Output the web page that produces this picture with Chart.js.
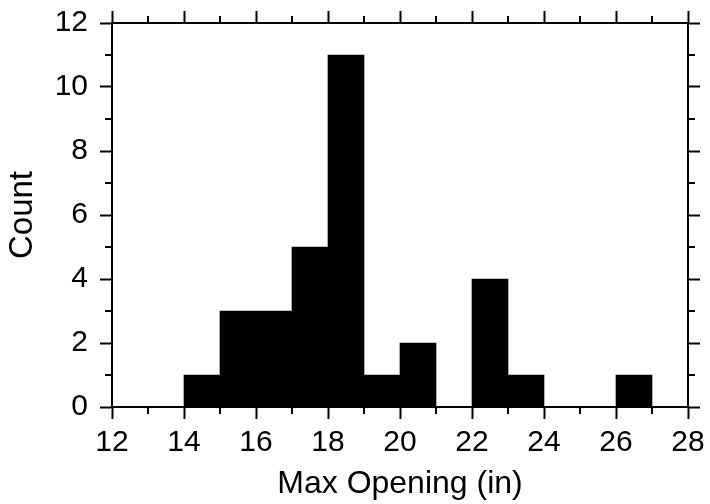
<!DOCTYPE html>
<html>
<head>
<meta charset="utf-8">
<script src="https://cdn.jsdelivr.net/npm/chart.js@4.4.1/dist/chart.umd.min.js"></script>
<style>
  html, body { margin: 0; padding: 0; background: #fff; }
  #wrap { width: 710px; height: 504px; }
</style>
</head>
<body>
<div id="wrap"><canvas id="c" width="710" height="504"></canvas></div>
<script>
// Histogram bins (left edges, width 1) and counts
const binStarts = [14, 15, 16, 17, 18, 19, 20, 21, 22, 23, 24, 25, 26];
const counts    = [1, 3, 3, 5, 11, 1, 2, 0, 4, 1, 0, 0, 1];
const binWidth = 1;

// Axis ticks
const xMajorTicks = [12, 14, 16, 18, 20, 22, 24, 26, 28];
const xMinorTicks = [13, 15, 17, 19, 21, 23, 25, 27];
const yMajorTicks = [0, 2, 4, 6, 8, 10, 12];
const yMinorTicks = [1, 3, 5, 7, 9, 11];

const xTitle = 'Max Opening (in)';
const yTitle = 'Count';

const FONT = '"Liberation Sans", Arial, Helvetica, sans-serif';
const MAJOR = 12, MINOR = 7, LW = 2;

const data = binStarts.map((s, i) => ({ x: s + binWidth / 2, y: counts[i] }));

function setTicks(values) {
  return function (scale) { scale.ticks = values.map(v => ({ value: v })); };
}
function fitBox(w, h) {
  return function (s) {
    if (w !== null) s.width = w;
    if (h !== null) s.height = h;
    s.paddingTop = 0; s.paddingBottom = 0; s.paddingLeft = 0; s.paddingRight = 0;
  };
}

const minorTicksPlugin = {
  id: 'minorTicks',
  afterDraw(chart) {
    const ctx = chart.ctx;
    const a = chart.chartArea;
    const xs = chart.scales.x, ys = chart.scales.y;
    ctx.save();
    ctx.strokeStyle = '#000';
    ctx.lineWidth = LW;
    ctx.beginPath();
    xMinorTicks.forEach(v => {
      const px = Math.round(xs.getPixelForValue(v));
      ctx.moveTo(px, a.bottom); ctx.lineTo(px, a.bottom + MINOR);
      ctx.moveTo(px, a.top); ctx.lineTo(px, a.top - MINOR);
    });
    yMinorTicks.forEach(v => {
      const py = Math.round(ys.getPixelForValue(v));
      ctx.moveTo(a.left, py); ctx.lineTo(a.left - MINOR, py);
      ctx.moveTo(a.right, py); ctx.lineTo(a.right + MINOR, py);
    });
    ctx.stroke();
    ctx.restore();
  }
};

const gridCommon = {
  drawOnChartArea: false,
  drawTicks: true,
  tickLength: MAJOR,
  tickColor: '#000',
  tickWidth: LW,
  offset: false
};
const borderCommon = { display: true, color: '#000', width: LW };

new Chart(document.getElementById('c'), {
  type: 'bar',
  data: {
    datasets: [{
      data: data,
      backgroundColor: '#000',
      borderWidth: 0,
      barPercentage: 1,
      categoryPercentage: 1,
      grouped: false
    }]
  },
  options: {
    responsive: false,
    animation: false,
    events: [],
    layout: { padding: 0 },
    plugins: { legend: { display: false }, tooltip: { enabled: false } },
    scales: {
      x: {
        type: 'linear',
        position: 'bottom',
        min: 12, max: 28,
        offset: false,
        afterBuildTicks: setTicks(xMajorTicks),
        afterFit: fitBox(null, 97),
        grid: gridCommon,
        border: borderCommon,
        ticks: { color: '#000', font: { family: FONT, size: 30 }, padding: 6, maxRotation: 0, autoSkip: false },
        title: { display: true, text: xTitle, color: '#000', font: { family: FONT, size: 32 }, padding: { top: 0, bottom: 1 } }
      },
      x2: {
        type: 'linear',
        position: 'top',
        min: 12, max: 28,
        offset: false,
        afterBuildTicks: setTicks(xMajorTicks),
        afterFit: fitBox(null, 23),
        grid: gridCommon,
        border: borderCommon,
        ticks: { display: false }
      },
      y: {
        type: 'linear',
        position: 'left',
        min: 0, max: 12,
        afterBuildTicks: setTicks(yMajorTicks),
        afterFit: fitBox(112, null),
        grid: gridCommon,
        border: borderCommon,
        ticks: { color: '#000', font: { family: FONT, size: 30 }, padding: 12, autoSkip: false },
        title: { display: true, text: yTitle, color: '#000', font: { family: FONT, size: 33 }, padding: { top: 3, bottom: 0 } }
      },
      y2: {
        type: 'linear',
        position: 'right',
        min: 0, max: 12,
        afterBuildTicks: setTicks(yMajorTicks),
        afterFit: fitBox(22, null),
        grid: gridCommon,
        border: borderCommon,
        ticks: { display: false }
      }
    }
  },
  plugins: [minorTicksPlugin]
});
</script>
</body>
</html>
